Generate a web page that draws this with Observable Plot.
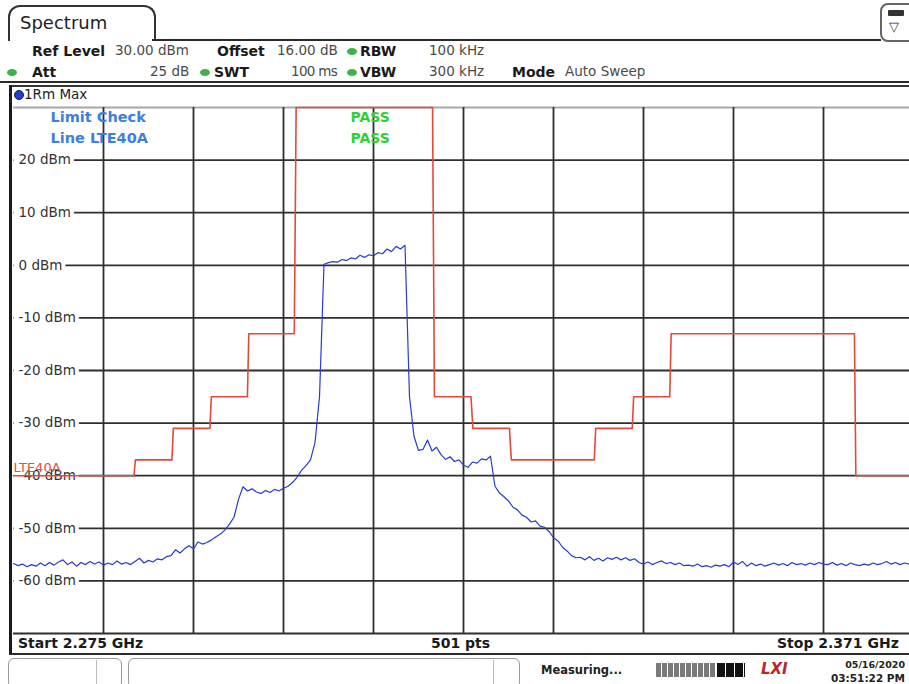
<!DOCTYPE html>
<html><head><meta charset="utf-8">
<script src="https://cdn.jsdelivr.net/npm/d3@7"></script>
<script src="https://cdn.jsdelivr.net/npm/@observablehq/plot@0.6"></script>
<style>
body{margin:0;background:#fff;font-family:"DejaVu Sans",sans-serif;}
#page{position:relative;width:909px;height:684px;overflow:hidden;background:#fff;}
#chart{position:absolute;left:0;top:0;z-index:0;}
.a{position:absolute;white-space:nowrap;z-index:2;line-height:1;}
.lbl{font-weight:bold;color:#1a1a1a;font-size:14px;}
.val{color:#4a4a4a;font-size:13.5px;}
.dot{position:absolute;width:10px;height:7px;border-radius:50%;background:#3db24a;z-index:3;}
.ln{position:absolute;background:#2a2a2a;z-index:2;}
.ft{font-weight:bold;color:#1a1a1a;font-size:14px;}
</style></head>
<body>
<div id="page">
  <!-- tab -->
  <div class="a" style="left:8px;top:5px;width:144px;height:34px;border:2px solid #333;border-bottom:none;border-radius:12px 12px 0 0;"></div>
  <div class="a" style="left:20px;top:14px;font-size:18px;color:#222;">Spectrum</div>
  <div class="ln" style="left:152px;top:39px;width:729px;height:2px;"></div>
  <div class="a" style="left:880px;top:3px;width:34px;height:35px;border:2px solid #666;border-radius:8px;"></div>
  <div class="a" style="left:888px;top:10px;width:16px;height:6px;background:#333;border-radius:1px;"></div>
  <div class="a" style="left:889px;top:20px;font-size:13px;color:#333;">▽</div>
  <!-- header rows -->
  <div class="a lbl" style="left:32px;top:44px;">Ref Level</div>
  <div class="a val" style="left:115px;top:44px;">30.00 dBm</div>
  <div class="a lbl" style="left:217px;top:44px;">Offset</div>
  <div class="a val" style="left:277px;top:44px;">16.00 dB</div>
  <div class="dot" style="left:347px;top:48px;"></div>
  <div class="a lbl" style="left:360px;top:44px;">RBW</div>
  <div class="a val" style="left:429px;top:44px;">100 kHz</div>
  <div class="dot" style="left:7px;top:69px;"></div>
  <div class="a lbl" style="left:32px;top:65px;">Att</div>
  <div class="a val" style="left:150px;top:65px;">25 dB</div>
  <div class="dot" style="left:200px;top:69px;"></div>
  <div class="a lbl" style="left:214px;top:65px;">SWT</div>
  <div class="a val" style="left:291px;top:65px;letter-spacing:-0.7px;">100 ms</div>
  <div class="dot" style="left:347px;top:69px;"></div>
  <div class="a lbl" style="left:360px;top:65px;">VBW</div>
  <div class="a val" style="left:429px;top:65px;">300 kHz</div>
  <div class="a lbl" style="left:512px;top:65px;">Mode</div>
  <div class="a val" style="left:565px;top:65px;">Auto Sweep</div>
  <div class="ln" style="left:0;top:81px;width:909px;height:2px;"></div>
  <!-- trace row -->
  <div class="ln" style="left:9px;top:85px;width:900px;height:2px;background:#333;"></div>
  <div class="a" style="left:14px;top:90px;width:8px;height:8px;border-radius:50%;background:#1f3fd6;border:1px solid #10205a;"></div>
  <div class="a" style="left:24px;top:88px;font-size:13.5px;color:#222;">1Rm Max</div>
  <div class="ln" style="left:9px;top:85px;width:3px;height:570px;background:#1a1a1a;"></div>
  <!-- footer -->
  <div class="a ft" style="left:18px;top:636px;">Start 2.275 GHz</div>
  <div class="a ft" style="left:431px;top:636px;">501 pts</div>
  <div class="a ft" style="left:777px;top:636px;">Stop 2.371 GHz</div>
  <div class="ln" style="left:9px;top:653px;width:900px;height:2px;"></div>
  <!-- status bar -->
  <div class="a" style="left:8px;top:658px;width:112px;height:28px;border:1.5px solid #999;border-radius:6px;"></div>
  <div class="a" style="left:96px;top:660px;width:1px;height:24px;background:#bbb;"></div>
  <div class="a" style="left:128px;top:658px;width:390px;height:28px;border:1.5px solid #999;border-radius:6px;"></div>
  <div class="a" style="left:493px;top:660px;width:1px;height:24px;background:#bbb;"></div>
  <div class="a" style="left:541px;top:665px;font-size:11.5px;font-weight:bold;color:#222;">Measuring...</div>
  <div class="a" style="left:656px;top:663px;width:60px;height:14px;background:repeating-linear-gradient(90deg,#7a7a7a 0 5px,#fff 5px 6px);"></div>
  <div class="a" style="left:717px;top:663px;width:28px;height:14px;background:repeating-linear-gradient(90deg,#111 0 8px,#fff 8px 9px);"></div>
  <div class="a" style="left:761px;top:662px;font-size:15px;font-weight:bold;font-style:italic;color:#b8262b;">LXI</div>
  <div class="a" style="right:4px;top:660px;font-size:9.5px;font-weight:bold;color:#222;text-align:right;">05/16/2020</div>
  <div class="a" style="right:4px;top:673px;font-size:10.5px;font-weight:bold;color:#222;text-align:right;">03:51:22 PM</div>
  <div id="chart"></div>
</div>
<script>
// ---- data ----
const freqStartMHz = 2275;
const freqStopMHz = 2371;
const traceStepMHz = 0.48;
// trace level (dBm), every 0.48 MHz
const traceDbm = [
 -56.7,-57.1,-56.8,-57.3,-56.9,-57.2,-56.6,-57.1,-56.5,-57.0,
 -56.4,-56.0,-56.9,-56.4,-57.2,-56.5,-56.9,-56.3,-56.8,-56.4,
 -57.0,-56.6,-56.9,-56.2,-56.8,-56.5,-56.9,-56.3,-55.7,-56.6,
 -56.1,-56.4,-55.8,-56.0,-55.4,-55.2,-54.1,-54.7,-53.9,-53.3,
 -53.9,-52.6,-53.0,-52.7,-52.2,-51.6,-51.1,-50.3,-49.2,-47.9,
 -44.5,-42.1,-42.9,-42.5,-43.1,-43.4,-42.8,-43.2,-42.6,-42.9,
 -42.4,-42.0,-41.3,-40.3,-39.0,-38.1,-37.0,-33.7,-25.0,0.2,
 0.5,0.7,0.6,1.1,0.9,1.4,1.2,1.9,1.5,2.0,
 1.8,2.4,2.2,3.1,2.6,3.6,3.1,3.8,-25.0,-32.5,
 -35.2,-35.0,-33.2,-35.3,-34.6,-36.0,-36.9,-36.4,-37.3,-37.0,
 -38.0,-38.4,-37.4,-37.6,-36.8,-37.0,-36.3,-42.0,-43.3,-44.0,
 -44.8,-46.0,-46.5,-47.5,-47.9,-48.8,-48.6,-49.6,-49.8,-50.6,
 -51.8,-52.4,-53.6,-54.3,-55.2,-55.6,-55.5,-56.0,-55.4,-56.1,
 -55.7,-56.2,-55.6,-55.9,-55.5,-56.0,-55.6,-56.1,-55.8,-56.5,
 -56.8,-56.4,-56.9,-56.5,-56.2,-56.7,-56.5,-56.9,-56.6,-57.1,
 -57.0,-57.2,-56.8,-57.3,-57.1,-57.4,-57.0,-57.2,-56.9,-57.3,
 -56.4,-56.9,-56.3,-57.2,-56.6,-57.1,-56.8,-57.2,-56.9,-56.6,
 -57.0,-56.7,-57.1,-56.5,-56.9,-56.7,-57.0,-56.6,-56.9,-56.5,
 -56.8,-56.9,-56.5,-57.0,-56.7,-57.1,-56.6,-56.9,-57.1,-56.8,
 -57.0,-56.6,-56.9,-56.7,-56.3,-56.8,-56.5,-56.9,-56.6,-56.8,
 -56.7
];
// limit line LTE40A
const limitFreqMHz = [2275,2287.85,2288.0,2291.9,2292.05,2295.95,2296.1,2299.95,2300.1,2304.95,2305.15,
  2319.7,2319.9,2323.8,2324.0,2327.9,2328.1,2336.95,2337.1,2341.0,2341.15,2345.0,2345.15,2364.7,2364.85,2371];
const limitDbm = [-40,-40,-37,-37,-31,-31,-25,-25,-13,-13,30,
  30,-25,-25,-31,-31,-37,-37,-31,-31,-25,-25,-13,-13,-40,-40];
const limitName = "LTE40A";
const yTickValues = [20,10,0,-10,-20,-30,-40,-50,-60];
const yTickLabels = ["20 dBm","10 dBm","0 dBm","-10 dBm","-20 dBm","-30 dBm","-40 dBm","-50 dBm","-60 dBm"];
const yGridValues = [20,10,0,-10,-20,-30,-40,-50,-60,-70];
const xGridMHz = [2284.6,2294.2,2303.8,2313.4,2323.0,2332.6,2342.2,2351.8,2361.4];

// ---- tables ----
const trace = traceDbm.map((v, i) => ({f: freqStartMHz + i * traceStepMHz, v}));
const limit = limitFreqMHz.map((f, i) => ({f, v: limitDbm[i]}));

const chart = Plot.plot({
  width: 909, height: 684,
  marginLeft: 13, marginRight: 0, marginTop: 107, marginBottom: 51,
  x: {domain: [freqStartMHz, freqStopMHz], range: [13, 913], axis: null},
  y: {domain: [-70, 30], range: [633, 107], axis: null},
  style: {background: "transparent", fontFamily: "DejaVu Sans, sans-serif", overflow: "hidden"},
  marks: [
    Plot.ruleY([30], {stroke: "#a8a8a8", strokeWidth: 2.2}),
    Plot.ruleX(xGridMHz, {stroke: "#2e2e2e", strokeWidth: 1.8}),
    Plot.ruleY(yGridValues, {stroke: "#2e2e2e", strokeWidth: 1.8}),
    // blank strip at the left edge, under the tick labels
    Plot.ruleX([freqStartMHz], {y1: 20 + 3, y2: -60 - 3, dx: 2.5, stroke: "white", strokeWidth: 5}),
    Plot.text(yTickValues, {y: d => d, text: (d, i) => yTickLabels[i], frameAnchor: "left", textAnchor: "start",
      dx: 5, fill: "#333", stroke: "white", strokeWidth: 8, fontSize: 13.5}),
    Plot.line(limit, {x: "f", y: "v", stroke: "#e5493a", strokeWidth: 1.6}),
    Plot.line(trace, {x: "f", y: "v", stroke: "#2a3ad4", strokeWidth: 1.2}),
    Plot.text([{v: -40, t: limitName}], {y: "v", text: "t", frameAnchor: "left", textAnchor: "start",
      dx: 0, dy: -8, fill: "#e0503e", fontSize: 13}),
    Plot.text(["Limit Check"], {frameAnchor: "top-left", textAnchor: "start", lineAnchor: "middle", dx: 37, dy: 10,
      fill: "#3a7fe4", fontWeight: "bold", fontSize: 14.5}),
    Plot.text(["Line " + limitName], {frameAnchor: "top-left", textAnchor: "start", lineAnchor: "middle", dx: 37, dy: 31,
      fill: "#3a7fe4", fontWeight: "bold", fontSize: 14.5}),
    Plot.text(["PASS"], {frameAnchor: "top-left", textAnchor: "start", lineAnchor: "middle", dx: 337, dy: 10,
      fill: "#2fd12f", fontWeight: "bold", fontSize: 14}),
    Plot.text(["PASS"], {frameAnchor: "top-left", textAnchor: "start", lineAnchor: "middle", dx: 337, dy: 31,
      fill: "#2fd12f", fontWeight: "bold", fontSize: 14})
  ]
});
document.getElementById("chart").appendChild(chart);
</script>
</body></html>
